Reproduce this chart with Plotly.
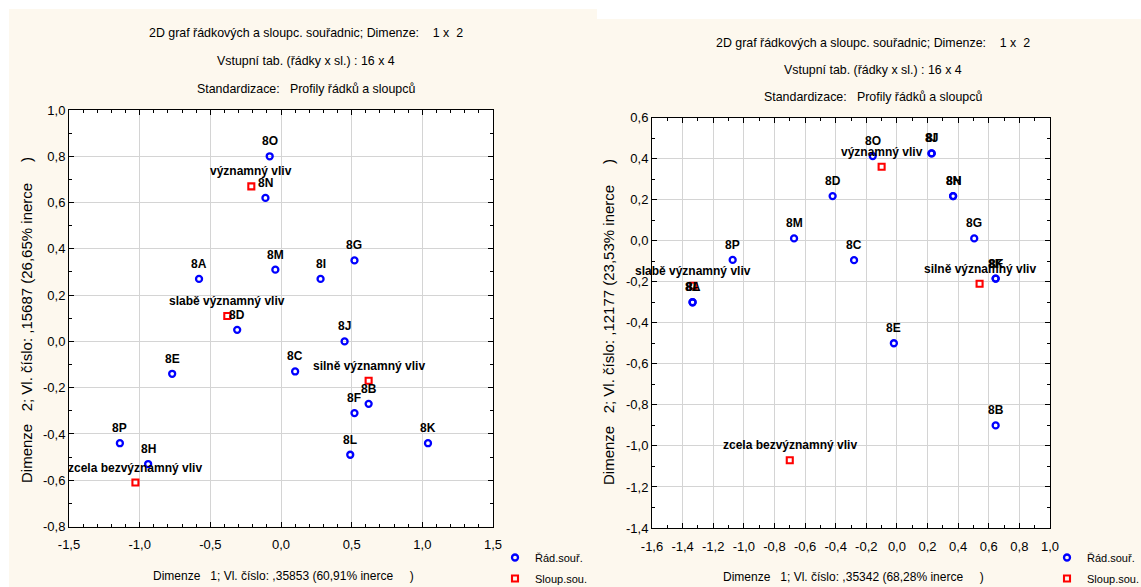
import plotly.graph_objects as go

# ---------------- data ----------------
row_labels = ["8A", "8B", "8C", "8D", "8E", "8F", "8G", "8H",
              "8I", "8J", "8K", "8L", "8M", "8N", "8O", "8P"]
col_labels = ["významný vliv", "slabě významný vliv",
              "silně významný vliv", "zcela bezvýznamný vliv"]

# left chart
left_row_x = [-0.58, 0.62, 0.10, -0.31, -0.77, 0.52, 0.52, -0.94,
              0.28, 0.45, 1.04, 0.49, -0.04, -0.11, -0.08, -1.14]
left_row_y = [0.27, -0.27, -0.13, 0.05, -0.14, -0.31, 0.35, -0.53,
              0.27, 0.00, -0.44, -0.49, 0.31, 0.62, 0.80, -0.44]
left_col_x = [-0.21, -0.38, 0.62, -1.03]
left_col_y = [0.67, 0.11, -0.17, -0.61]

# right chart
right_row_x = [-1.335, 0.645, -0.28, -0.42, -0.02, 0.645, 0.505, 0.367,
               0.225, 0.228, 0.645, -1.335, -0.672, 0.367, -0.158, -1.073]
right_row_y = [-0.30, -0.90, -0.095, 0.217, -0.50, -0.185, 0.011, 0.217,
               0.425, 0.425, -0.185, -0.30, 0.011, 0.217, 0.412, -0.094]
right_col_x = [-0.10, -1.33, 0.54, -0.70]
right_col_y = [0.36, -0.22, -0.21, -1.07]

left_xticks = [-1.5, -1.0, -0.5, 0.0, 0.5, 1.0, 1.5]
left_xtext = ["-1,5", "-1,0", "-0,5", "0,0", "0,5", "1,0", "1,5"]
left_yticks = [-0.8, -0.6, -0.4, -0.2, 0.0, 0.2, 0.4, 0.6, 0.8, 1.0]
left_ytext = ["-0,8", "-0,6", "-0,4", "-0,2", "0,0", "0,2", "0,4", "0,6", "0,8", "1,0"]
right_xticks = [-1.6, -1.4, -1.2, -1.0, -0.8, -0.6, -0.4, -0.2, 0.0,
                0.2, 0.4, 0.6, 0.8, 1.0]
right_xtext = ["-1,6", "-1,4", "-1,2", "-1,0", "-0,8", "-0,6", "-0,4", "-0,2",
               "0,0", "0,2", "0,4", "0,6", "0,8", "1,0"]
right_yticks = [-1.4, -1.2, -1.0, -0.8, -0.6, -0.4, -0.2, 0.0, 0.2, 0.4, 0.6]
right_ytext = ["-1,4", "-1,2", "-1,0", "-0,8", "-0,6", "-0,4", "-0,2",
               "0,0", "0,2", "0,4", "0,6"]

title_lines = ["2D graf řádkových a sloupc. souřadnic; Dimenze:    1 x  2",
               "Vstupní tab. (řádky x sl.) : 16 x 4",
               "Standardizace:   Profily řádků a sloupců"]
left_xtitle = "Dimenze   1; Vl. číslo: ,35853 (60,91% inerce     )"
left_ytitle = "Dimenze   2; Vl. číslo: ,15687 (26,65% inerce     )"
right_xtitle = "Dimenze   1; Vl. číslo: ,35342 (68,28% inerce     )"
right_ytitle = "Dimenze   2; Vl. číslo: ,12177 (23,53% inerce     )"
legend_names = ["Řád.souř.", "Sloup.sou."]

# ---------------- styling ----------------
W, H = 1141, 587
FONT = "Liberation Sans, Arial, sans-serif"
CREAM = "#fdf8ee"
GRID = "#d4d4d4"


def px(x):
    return x / W


def py(y):
    return 1 - y / H


fig = go.Figure()

lab_font = dict(family=FONT, size=12, color="black", weight="bold")
row_marker = dict(symbol="circle-open", size=6, color="#0000ff", line=dict(width=2.3, color="#0000ff"))
col_marker = dict(symbol="square-open", size=6, color="#ff0000", line=dict(width=2.1, color="#ff0000"))

ann = []
panels = [("x", "y", "legend", left_row_x, left_row_y, left_col_x, left_col_y),
          ("x2", "y2", "legend2", right_row_x, right_row_y, right_col_x, right_col_y)]
for xa, ya, lg, rx, ry, cx, cy in panels:
    fig.add_trace(go.Scatter(x=rx, y=ry, mode="markers", marker=row_marker,
                             name=legend_names[0], xaxis=xa, yaxis=ya, legend=lg,
                             legendgroup=lg + "r", cliponaxis=False))
    fig.add_trace(go.Scatter(x=cx, y=cy, mode="markers", marker=col_marker,
                             name=legend_names[1], xaxis=xa, yaxis=ya, legend=lg,
                             legendgroup=lg + "c", cliponaxis=False))
    # point labels placed above each point through the axes
    for labels, xs, ys in ((row_labels, rx, ry), (col_labels, cx, cy)):
        for t, xv, yv in zip(labels, xs, ys):
            ann.append(dict(text=t, x=xv, y=yv, xref=xa, yref=ya, showarrow=False,
                            xanchor="center", yanchor="middle", yshift=15,
                            font=lab_font))


def axis(domain, rng, vals, texts, minor_dtick, anchor, standoff):
    return dict(domain=domain, range=rng, tickmode="array", tickvals=vals, ticktext=texts,
                ticks="inside", ticklen=5, tickcolor="black", tickwidth=1,
                showline=True, linecolor="black", linewidth=1, mirror="allticks",
                showgrid=True, gridcolor=GRID, gridwidth=1, zeroline=False,
                tickfont=dict(family=FONT, size=13, color="black"),
                ticklabelstandoff=standoff,
                minor=dict(dtick=minor_dtick, tick0=0, ticks="inside", ticklen=3,
                           tickcolor="black", showgrid=False),
                anchor=anchor, fixedrange=True, automargin=False)


ldx = [px(69), px(493)]
ldy = [py(526.5), py(110)]
rdx = [px(652), px(1050)]
rdy = [py(528), py(117.5)]

leg_common = dict(xanchor="left", yanchor="top", bgcolor="rgba(0,0,0,0)",
                  borderwidth=0, font=dict(family=FONT, size=11, color="black"),
                  itemwidth=30, tracegroupgap=2)

fig.update_layout(
    template="none",
    width=W, height=H,
    margin=dict(l=0, r=0, t=0, b=0, pad=0, autoexpand=False),
    paper_bgcolor=CREAM, plot_bgcolor="white",
    font=dict(family=FONT, size=12, color="black"),
    xaxis=axis(ldx, [-1.5, 1.5], left_xticks, left_xtext, 0.1, "y", 6),
    yaxis=axis(ldy, [-0.8, 1.0], left_yticks, left_ytext, 0.1, "x", 0),
    xaxis2=axis(rdx, [-1.6, 1.0], right_xticks, right_xtext, 0.1, "y2", 6),
    yaxis2=axis(rdy, [-1.4, 0.6], right_yticks, right_ytext, 0.1, "x2", 0),
    legend=dict(x=px(495), y=py(543), **leg_common),
    legend2=dict(x=px(1047), y=py(543), **leg_common),
    showlegend=True,
)

# white strips around the two cream panels
shapes = [
    dict(type="rect", xref="paper", yref="paper", x0=0, x1=1, y0=py(9), y1=1,
         fillcolor="white", line=dict(width=0), layer="below"),
    dict(type="rect", xref="paper", yref="paper", x0=px(597), x1=1, y0=py(19), y1=1,
         fillcolor="white", line=dict(width=0), layer="below"),
    dict(type="rect", xref="paper", yref="paper", x0=0, x1=px(9), y0=0, y1=1,
         fillcolor="white", line=dict(width=0), layer="below"),
]
fig.update_layout(shapes=shapes)

for i, (yl, yr) in enumerate(zip([33, 61, 89], [43, 70, 97])):
    ann.append(dict(text=title_lines[i], x=px(306), y=py(yl), xref="paper", yref="paper",
                    showarrow=False, xanchor="center", yanchor="middle",
                    font=dict(family=FONT, size=12.4, color="black")))
    ann.append(dict(text=title_lines[i], x=px(873), y=py(yr), xref="paper", yref="paper",
                    showarrow=False, xanchor="center", yanchor="middle",
                    font=dict(family=FONT, size=12.4, color="black")))
ann.append(dict(text=left_xtitle, x=px(283), y=py(576), xref="paper", yref="paper",
                showarrow=False, xanchor="center", yanchor="middle",
                font=dict(family=FONT, size=12, color="black")))
ann.append(dict(text=right_xtitle, x=px(853), y=py(577), xref="paper", yref="paper",
                showarrow=False, xanchor="center", yanchor="middle",
                font=dict(family=FONT, size=12, color="black")))
ann.append(dict(text=left_ytitle, x=px(26), y=py(320), xref="paper", yref="paper",
                showarrow=False, xanchor="center", yanchor="middle", textangle=-90,
                font=dict(family=FONT, size=15, color="black")))
ann.append(dict(text=right_ytitle, x=px(608), y=py(322), xref="paper", yref="paper",
                showarrow=False, xanchor="center", yanchor="middle", textangle=-90,
                font=dict(family=FONT, size=15, color="black")))
fig.update_layout(annotations=ann)

fig.write_html("out.html", config={"displayModeBar": False},
               post_script="document.body.style.margin='0';")
